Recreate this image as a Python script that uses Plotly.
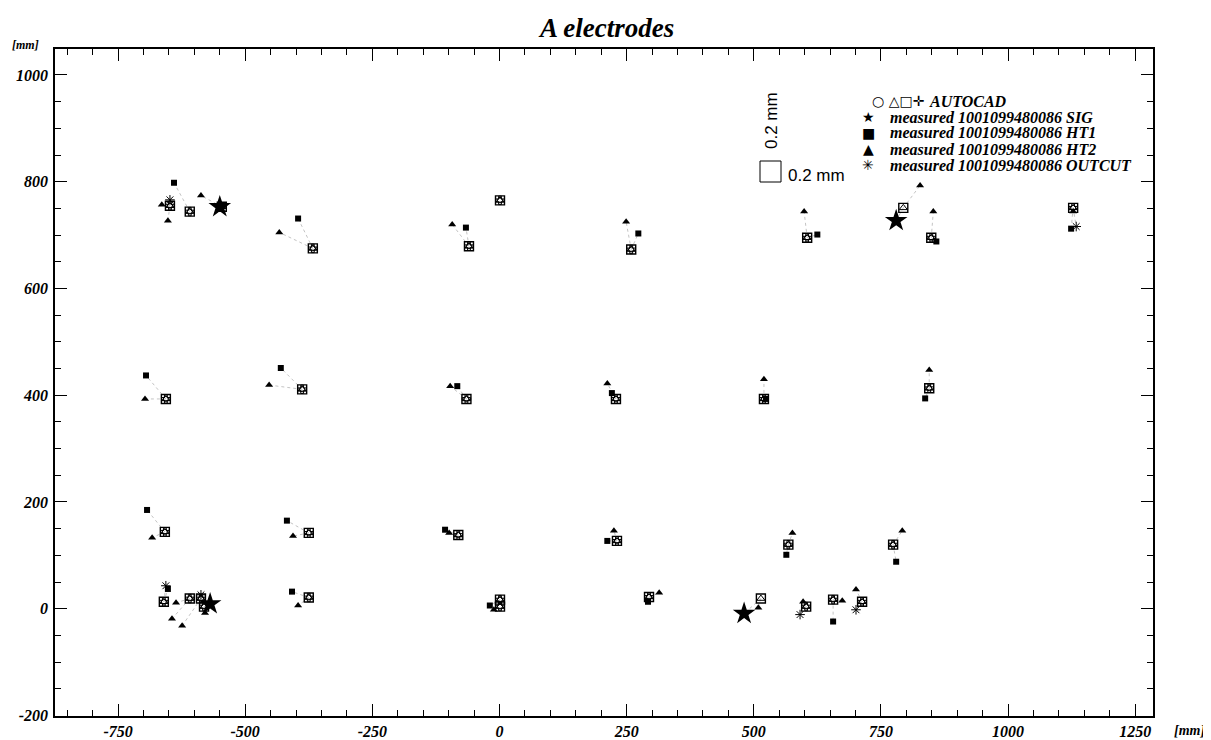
import plotly.graph_objects as go

# ---------------- data (mm) ----------------
# AUTOCAD nominal electrode positions
nom_x = [-648, -609, -546, -367, -60, 1, 259, 605, 794, 849, 1128,
         -656, -388, -65, 229, 520, 845,
         -658, -375, -81, 231, 568, 774,
         -660, -609, -587, -581, -375, 1, 1, 294, 514, 603, 656, 713]
nom_y = [755, 744, 753, 675, 679, 765, 673, 695, 751, 695, 751,
         393, 411, 393, 393, 393, 413,
         144, 142, 138, 127, 120, 120,
         13, 19, 19, 4, 21, 17, 4, 22, 19, 4, 17, 13]
# which nominal positions carry all four AUTOCAD symbols (1) or only square+triangle (0)
nom_full = [1, 1, 1, 1, 1, 1, 1, 1, 0, 1, 1,
            1, 1, 1, 1, 1, 1,
            1, 1, 1, 1, 1, 1,
            1, 1, 1, 1, 1, 1, 1, 1, 0, 1, 1, 1]

# measured HT1 (x, y, index of nominal)
ht1_x = [-640, -396, -66, 273, 625, 859, 1124,
         -695, -430, -83, 221, 524, 837,
         -693, -418, -107, 212, 564, 780,
         -652, -408, -19, 292, 656]
ht1_y = [798, 731, 714, 703, 701, 688, 712,
         437, 451, 417, 404, 393, 394,
         185, 165, 148, 127, 101, 88,
         37, 32, 6, 13, -24]
ht1_ref = [1, 3, 4, 6, 7, 9, 10,
           11, 12, 13, 14, 15, 16,
           17, 18, 19, 20, 21, 22,
           23, 27, 28, 30, 33]

# measured HT2
ht2_x = [-664, -652, -587, -433, -93, 249, 599, 827, 853, 1128,
         -697, -453, -97, 212, 520, 845,
         -683, -406, -99, 225, 576, 792,
         -636, -644, -624, -579, -396, -11, 314, 509, 597, 674, 701]
ht2_y = [757, 727, 774, 705, 720, 725, 744, 793, 744, 744,
         393, 419, 417, 422, 430, 447,
         133, 136, 142, 146, 142, 146,
         11, -19, -32, -8, 6, -2, 30, 2, 13, 15, 36]
ht2_ref = [0, 0, 2, 3, 4, 6, 7, 8, 9, 10,
           11, 12, 13, 14, 15, 16,
           17, 18, 19, 20, 21, 22,
           24, 24, 25, 26, 27, 28, 30, 31, 32, 33, 34]

# measured SIG
sig_x = [-550, 780, 481, -569]
sig_y = [753, 727, -9, 9]
sig_ref = [2, 8, 31, 26]

# measured OUTCUT
out_x = [-656, -587, -648, 1134, 591, 701]
out_y = [43, 26, 766, 716, -11, -2]
out_ref = [23, 25, 0, 10, 32, 34]

x_ticks = [-750, -500, -250, 0, 250, 500, 750, 1000, 1250]
y_ticks = [-200, 0, 200, 400, 600, 800, 1000]

# ---------------- figure ----------------
SERIF = "Liberation Serif"
fig = go.Figure()

# connecting dotted lines
lx, ly = [], []
for xs, ys, refs in [(ht1_x, ht1_y, ht1_ref), (ht2_x, ht2_y, ht2_ref),
                     (sig_x, sig_y, sig_ref), (out_x, out_y, out_ref)]:
    for x, y, r in zip(xs, ys, refs):
        lx += [nom_x[r], x, None]
        ly += [nom_y[r], y, None]
fig.add_trace(go.Scatter(x=lx, y=ly, mode="lines",
                         line=dict(color="#c4c4c4", width=1, dash="dot"),
                         hoverinfo="skip", showlegend=False))

full_x = [x for x, f in zip(nom_x, nom_full) if f]
full_y = [y for y, f in zip(nom_y, nom_full) if f]

# AUTOCAD symbols
fig.add_trace(go.Scatter(x=nom_x, y=nom_y, mode="markers", showlegend=False,
                         marker=dict(symbol="square-open", size=9, color="black",
                                     line=dict(width=1.4))))
fig.add_trace(go.Scatter(x=nom_x, y=nom_y, mode="markers", showlegend=False,
                         marker=dict(symbol="triangle-up-open", size=7, color="black",
                                     line=dict(width=1))))
fig.add_trace(go.Scatter(x=full_x, y=full_y, mode="markers", showlegend=False,
                         marker=dict(symbol="cross-open", size=7, color="black",
                                     line=dict(width=1))))
fig.add_trace(go.Scatter(x=full_x, y=full_y, mode="markers", showlegend=False,
                         marker=dict(symbol="circle-open", size=5, color="black",
                                     line=dict(width=1))))

# measured
fig.add_trace(go.Scatter(x=ht1_x, y=ht1_y, mode="markers", showlegend=False,
                         marker=dict(symbol="square", size=6, color="black")))
fig.add_trace(go.Scatter(x=ht2_x, y=ht2_y, mode="markers", showlegend=False,
                         marker=dict(symbol="triangle-up", size=7, color="black")))
fig.add_trace(go.Scatter(x=sig_x, y=sig_y, mode="markers", showlegend=False,
                         marker=dict(symbol="star", size=17, color="black")))
fig.add_trace(go.Scatter(x=out_x, y=out_y, mode="markers", showlegend=False,
                         marker=dict(symbol="asterisk-open", size=8, color="black",
                                     line=dict(width=1, color="black"))))

# page layout (page pixels; the page body adds an 8px offset)
OFF = 8
PL, PR, PT, PB = 55, 1153, 49, 716
W, H = 1211 - OFF, 740 - OFF
L, R, T, B = PL - OFF, PR - OFF, PT - OFF, PB - OFF


def px(xp):
    return (xp - PL) / (PR - PL)


def py(yp):
    return (PB - yp) / (PB - PT)


tickfont = dict(family=SERIF, size=16, color="black", weight="bold", style="italic")
axis_common = dict(showline=True, linecolor="black", linewidth=1.5, mirror="ticks",
                   ticks="inside", ticklen=12, tickwidth=1, tickcolor="black",
                   showgrid=False, zeroline=False, tickfont=tickfont, automargin=False,
                   minor=dict(ticks="inside", ticklen=6, dtick=50, tickcolor="black",
                              showgrid=False))

fig.update_xaxes(range=[-874, 1285], tickvals=x_ticks,
                 ticktext=[str(v) for v in x_ticks], **axis_common)
fig.update_yaxes(range=[-201, 1048.6], tickvals=y_ticks,
                 ticktext=[str(v) for v in y_ticks], ticklabelstandoff=2, **axis_common)


def note(xp, yp, text, font, xa="center", ya="middle", **kw):
    return dict(x=px(xp), y=py(yp), xref="paper", yref="paper", text=text,
                showarrow=False, xanchor=xa, yanchor=ya, font=font, **kw)


ann = []
ann.append(note(606, 28, "A electrodes",
                dict(family=SERIF, size=27, color="black", weight="bold", style="italic")))
ann.append(note(25, 45, "[mm]",
                dict(family=SERIF, size=12, color="black", weight="bold", style="italic")))
ann.append(note(1189, 730, "[mm]",
                dict(family=SERIF, size=14, color="black", weight="bold", style="italic")))

lfont = dict(family=SERIF, size=16, color="black", weight="bold", style="italic")
sfont = dict(family="DejaVu Sans", size=14, color="black")
afont = dict(family="DejaVu Sans", size=14, color="black")
ann.append(note(926, 101, "○ △□✛", afont, xa="right"))
ann.append(note(927, 101, "AUTOCAD", lfont, xa="left"))
legend_rows = [("★", "measured 1001099480086 SIG", 117),
               ("■", "measured 1001099480086 HT1", 133),
               ("▲", "measured 1001099480086 HT2", 149),
               ("✳", "measured 1001099480086 OUTCUT", 165)]
for sym, txt, yy in legend_rows:
    ann.append(note(868, yy, sym, sfont))
    ann.append(note(888, yy, txt, lfont, xa="left"))

kfont = dict(family="Liberation Sans", size=17, color="black")
ann.append(note(771, 121, "0.2 mm", kfont, textangle=-90))
ann.append(note(786, 175, "0.2 mm", kfont, xa="left"))

shapes = [dict(type="rect", xref="paper", yref="paper",
               x0=px(760), x1=px(781), y0=py(182), y1=py(161),
               line=dict(color="black", width=1))]

fig.update_layout(width=W, height=H, margin=dict(l=L, r=W - R, t=T, b=H - B),
                  paper_bgcolor="white", plot_bgcolor="white",
                  annotations=ann, shapes=shapes, showlegend=False)

fig.write_html("out.html")
